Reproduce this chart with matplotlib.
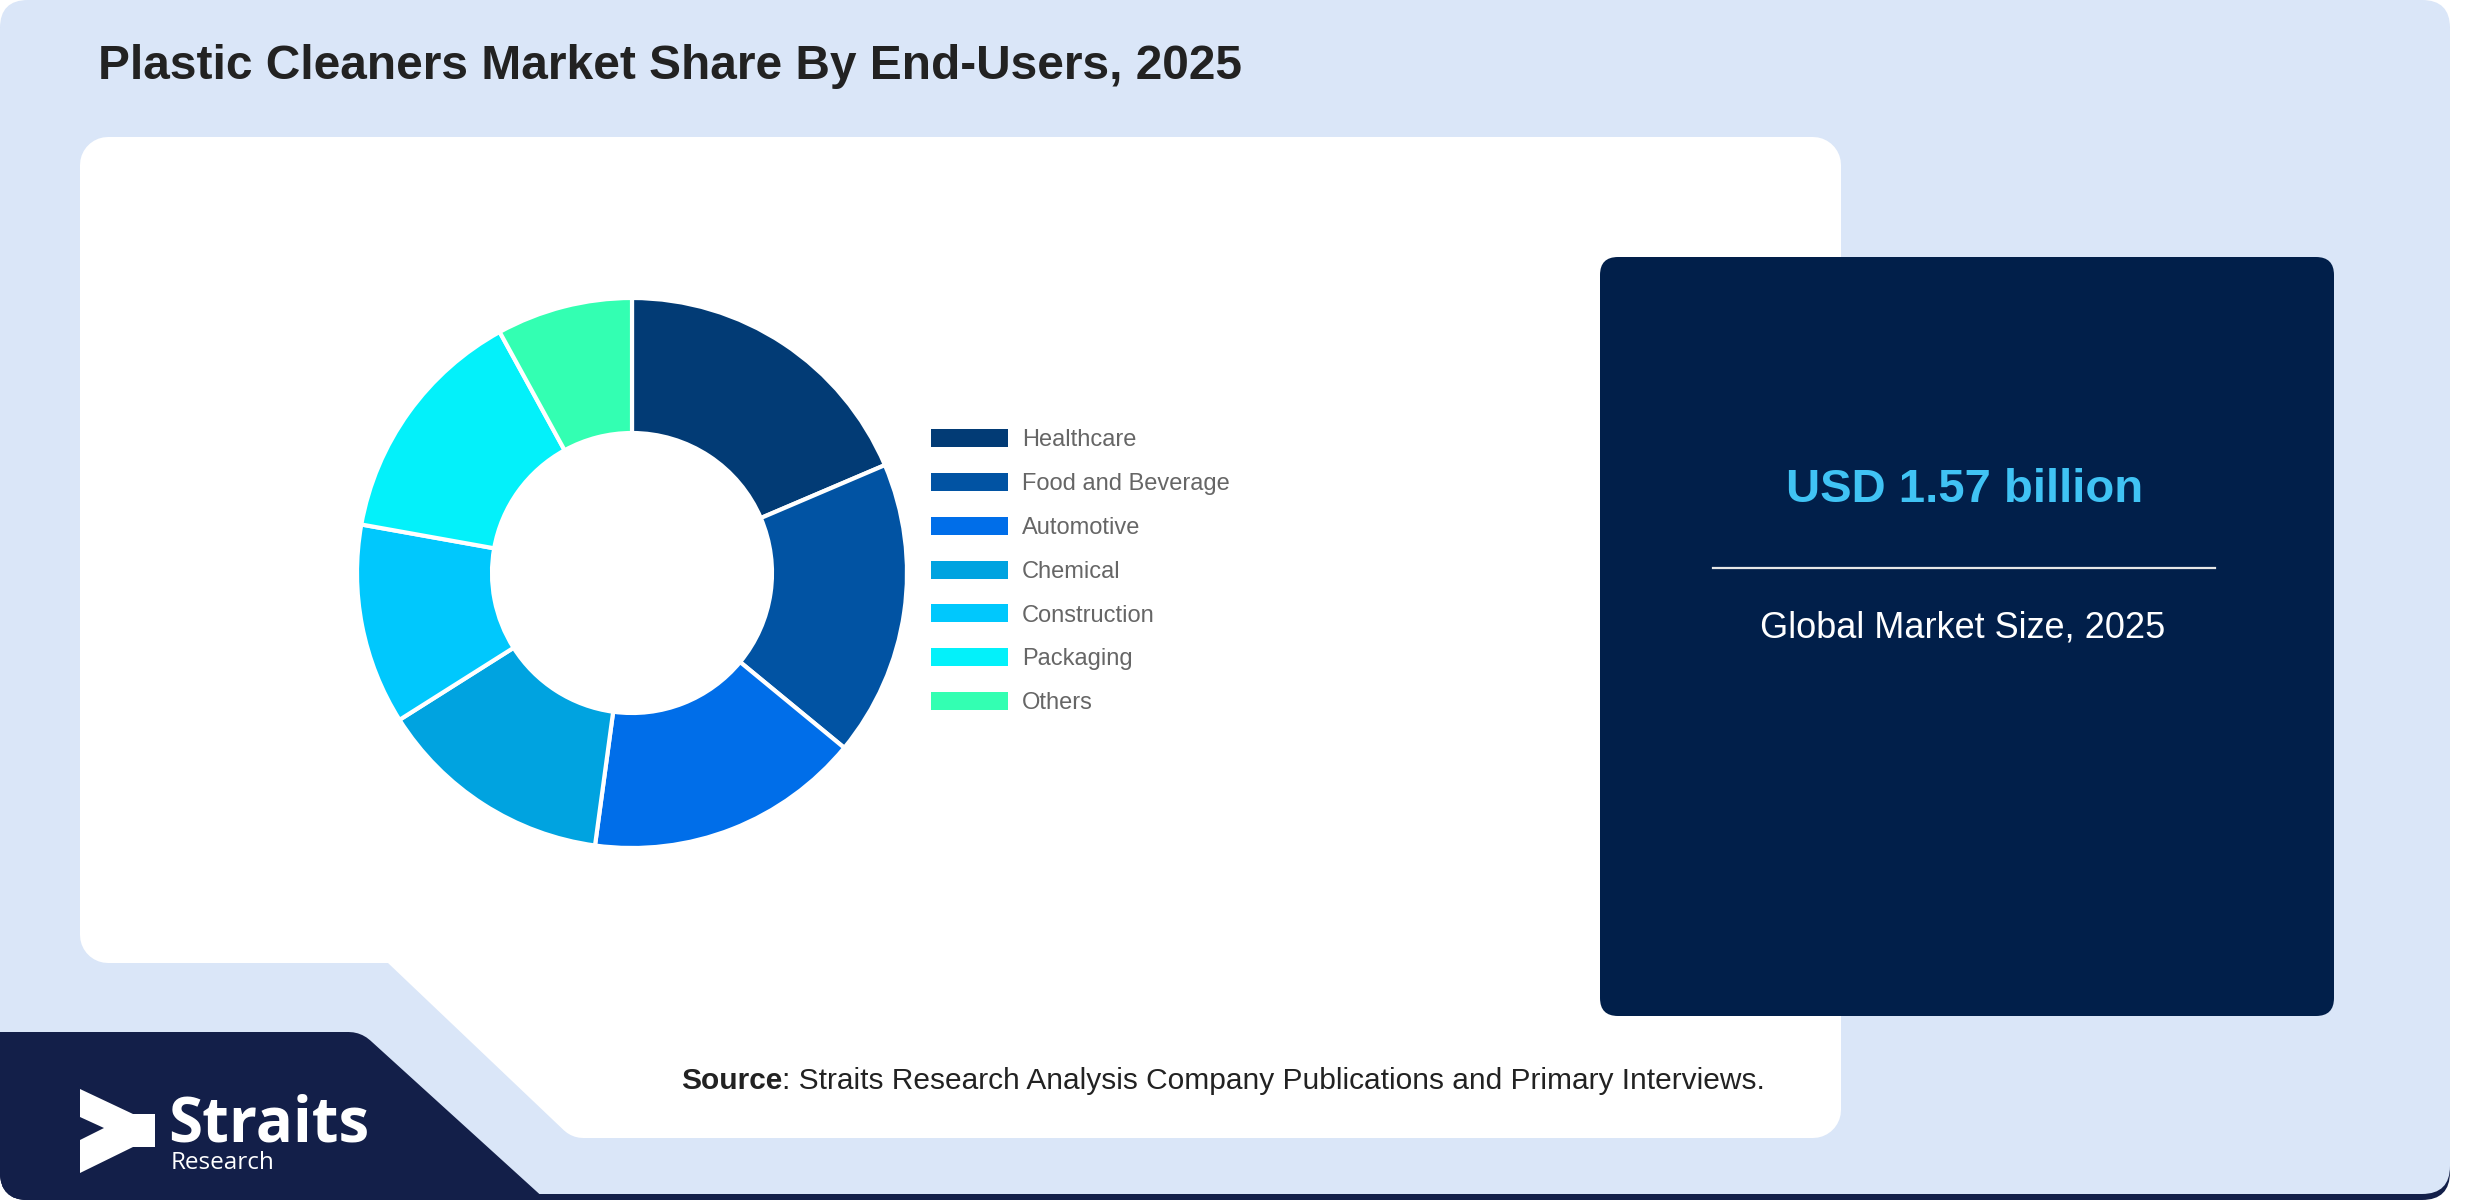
import numpy as np
import matplotlib
matplotlib.use('Agg')
import matplotlib.pyplot as plt
from matplotlib.patches import FancyBboxPatch, Polygon, Patch

# data (share %, clockwise from 12 o'clock)
categories = ['Healthcare', 'Food and Beverage', 'Automotive', 'Chemical',
              'Construction', 'Packaging', 'Others']
shares = [18.6, 17.4, 16.2, 13.9, 11.8, 14.2, 8.0]
colors = ['#023B75', '#0153A3', '#006EE9', '#00A3E0', '#00C8FD', '#03F1FA', '#33FFB2']

title = 'Plastic Cleaners Market Share By End-Users, 2025'
market_value = 'USD 1.57 billion'
market_label = 'Global Market Size, 2025'
source_text = ': Straits Research Analysis Company Publications and Primary Interviews.'

W, H = 2480, 1200
LIGHT = '#DAE6F8'
NAVY = '#131F49'
BOX = '#011F4A'
FONT = 'Liberation Sans'


def inset(pts, d):
    # move every edge of the polygon inwards by d (for round-join trick)
    pts = np.asarray(pts, float)
    n = len(pts)
    area = 0.5 * np.sum(pts[:, 0] * np.roll(pts[:, 1], -1) - np.roll(pts[:, 0], -1) * pts[:, 1])
    s = 1 if area > 0 else -1
    lines = []
    for i in range(n):
        p, q = pts[i], pts[(i + 1) % n]
        t = (q - p) / np.linalg.norm(q - p)
        lines.append((p + d * s * np.array([-t[1], t[0]]), t))
    out = []
    for i in range(n):
        p1, t1 = lines[i - 1]
        p2, t2 = lines[i]
        a, b = np.linalg.solve(np.array([t1, -t2]).T, p2 - p1)
        out.append(p1 + a * t1)
    return np.array(out)


def rounded_poly(pts, r, color, **kw):
    lw = 2 * r * 72 / 100
    return Polygon(inset(pts, r), closed=True, facecolor=color, edgecolor=color,
                   linewidth=lw, joinstyle='round', **kw)


fig = plt.figure(figsize=(24.8, 12), dpi=100, facecolor='white')
ax = fig.add_axes([0, 0, 1, 1])

# dark rim under the card, then the light card itself
rim = FancyBboxPatch((0, 8), 2450, 1192, boxstyle='round,pad=0,rounding_size=28',
                     facecolor=NAVY, edgecolor='none', zorder=0)
ax.add_patch(rim)
bg = FancyBboxPatch((0, 0), 2450, 1194, boxstyle='round,pad=0,rounding_size=28',
                    facecolor=LIGHT, edgecolor='none', zorder=0.5)
ax.add_patch(bg)

# white panel with the cut corner at bottom left
panel = rounded_poly([(80, 137), (1841, 137), (1841, 1138), (572, 1138),
                      (388, 963), (80, 963)], 28, 'white', zorder=2)
ax.add_patch(panel)

# navy logo block
logo_bg = rounded_poly([(-60, 1032), (361, 1032), (612, 1260), (-60, 1260)], 32, NAVY, zorder=2)
ax.add_patch(logo_bg)
logo_bg.set_clip_path(rim)

# donut
wedges, _ = ax.pie(shares, colors=colors, center=(632, 573), radius=275,
                   startangle=270, counterclock=True,
                   wedgeprops=dict(width=135, edgecolor='white', linewidth=3))
for w in wedges:
    w.set_zorder(3)

ax.set_xlim(0, W)
ax.set_ylim(H, 0)
ax.set_aspect('auto')
ax.axis('off')

handles = [Patch(facecolor=c, edgecolor='none') for c in colors]
leg = ax.legend(handles, categories, loc='upper left', bbox_to_anchor=(931, 429),
                bbox_transform=ax.transData, frameon=False, borderpad=0, borderaxespad=0,
                handlelength=3.25, handleheight=0.8, handletextpad=0.6, labelspacing=0.915,
                prop=dict(family=FONT, size=17))
for t in leg.get_texts():
    t.set_color('#666666')
leg.set_zorder(4)

# title
ax.text(98, 79, title, fontsize=34.5, fontweight='bold', color='#222222',
        family=FONT, va='baseline', ha='left', zorder=5)

# market size box
box = FancyBboxPatch((1600, 257), 734, 759, boxstyle='round,pad=0,rounding_size=18',
                     facecolor=BOX, edgecolor='none', zorder=3)
ax.add_patch(box)
ax.text(1965, 502, market_value, fontsize=34, fontweight='bold', color='#40C3F4',
        family=FONT, ha='center', va='baseline', zorder=5)
ax.plot([1713, 2215], [568, 568], color='#E6E6E6', linewidth=1.6, zorder=5)
ax.text(1963, 638, market_label, fontsize=26, color='white',
        family=FONT, ha='center', va='baseline', zorder=5)

# source line
t1 = ax.text(681, 1089, 'Source', fontsize=21.5, fontweight='bold', color='#222222',
             family=FONT, ha='left', va='baseline', zorder=5)
ax.annotate(source_text, xy=(1, 0), xycoords=t1, fontsize=21.5, color='#222222',
            family=FONT, ha='left', va='bottom', zorder=5)

# logo mark + name
mark = Polygon([(80, 1089), (133, 1114), (155, 1114), (155, 1147), (133, 1147),
                (80, 1173), (80, 1140), (104, 1128), (80, 1117)],
               closed=True, facecolor='white', edgecolor='none', zorder=5)
ax.add_patch(mark)
ax.text(168, 1142, 'Straits', fontsize=44.5, fontweight='bold', color='white',
        family='Open Sans', ha='left', va='baseline', zorder=5)
ax.text(171, 1169, 'Research', fontsize=17.5, color='white',
        family='Open Sans', ha='left', va='baseline', zorder=5)

fig.savefig('out.png', dpi=100, facecolor='white')
